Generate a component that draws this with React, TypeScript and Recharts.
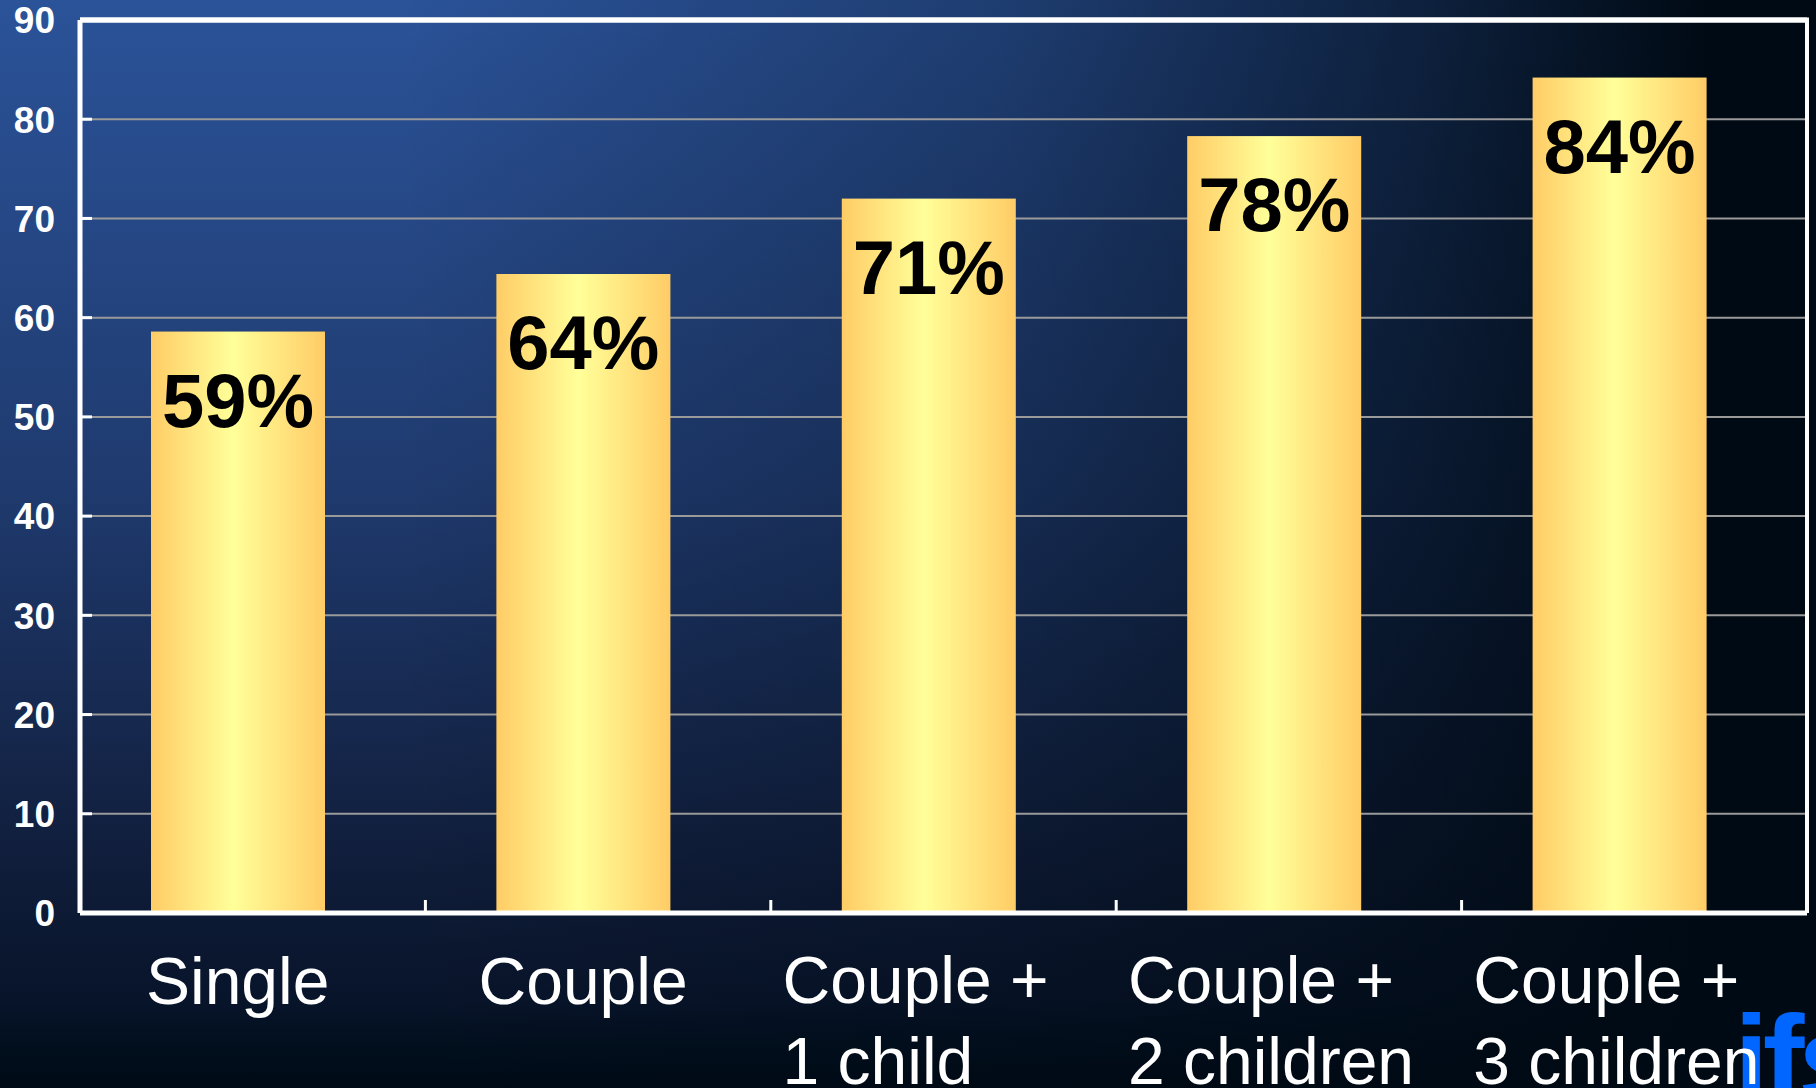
import React from 'react';
import * as R from 'recharts';
import { BarChart, Bar, XAxis, YAxis, CartesianGrid, LabelList, ReferenceLine } from 'recharts';

const categories: string[] = ['Single', 'Couple', 'Couple +\n1 child', 'Couple +\n2 children', 'Couple +\n3 children'];
const values: number[] = [58.6, 64.4, 72.0, 78.3, 84.2];
const valueLabels: string[] = ['59%', '64%', '71%', '78%', '84%'];
const yTicks: number[] = [0, 10, 20, 30, 40, 50, 60, 70, 80, 90];
const logoText = 'ifs';

const data = categories.map((c, i) => ({ name: c, value: values[i], label: valueLabels[i] }));

const W = 1816;
const H = 1088;
const FONT = '"Liberation Sans", Arial, Helvetica, sans-serif';
const BAR_SHIFT = -15;

const usePlotAreaHook: any = (R as any).usePlotArea || (R as any).useOffset || (() => null);

const Frame = () => {
  const area = usePlotAreaHook();
  if (!area) return null;
  const x = area.x ?? area.left;
  const y = area.y ?? area.top;
  const w = area.width;
  const h = area.height;
  if (x == null || w == null) return null;
  return (
    <g>
      <line x1={x} x2={x + w + 2} y1={y} y2={y} stroke="#fff" strokeWidth={5} />
      <line x1={x + w} x2={x + w} y1={y} y2={y + h} stroke="#fff" strokeWidth={4} />
    </g>
  );
};

const BarShape = (p: any) => (
  <rect x={p.x + BAR_SHIFT} y={p.y} width={p.width} height={p.height} fill="url(#barGrad)" />
);

const BarValueLabel = (p: any) => {
  const cx = p.x + BAR_SHIFT + p.width / 2;
  return (
    <text x={cx} y={p.y + 95} textAnchor="middle" fontFamily={FONT} fontWeight="bold" fontSize={76} fill="#000">
      {p.value}
    </text>
  );
};

const YTick = (p: any) => (
  <g>
    <line x1={p.x} x2={p.x + 12} y1={p.y} y2={p.y} stroke="#fff" strokeWidth={3} />
    <text x={p.x - 25} y={p.y} dy="0.36em" textAnchor="end" fontFamily={FONT} fontWeight="bold" fontSize={37} fill="#fff">
      {p.payload.value}
    </text>
  </g>
);

const XTick = (p: any) => {
  const lines: string[] = String(p.payload.value).split('\n');
  const half = p.payload && p.payload.offset ? p.payload.offset : (p.width && p.visibleTicksCount ? p.width / p.visibleTicksCount / 2 : 172.7);
  const cx = p.x + BAR_SHIFT;
  const last = p.index === (p.visibleTicksCount ? p.visibleTicksCount - 1 : 4);
  return (
    <g>
      {!last && (
        <line x1={p.x + half} x2={p.x + half} y1={p.y} y2={p.y - 13} stroke="#fff" strokeWidth={3} />
      )}
      {lines.length === 1 ? (
        <text x={cx} y={p.y + 91} textAnchor="middle" fontFamily={FONT} fontSize={66} fill="#fff">
          {lines[0]}
        </text>
      ) : (
        lines.map((ln, i) => (
          <text key={i} x={cx - 146} y={p.y + 90 + i * 81} textAnchor="start" fontFamily={FONT} fontSize={66} fill="#fff">
            {ln}
          </text>
        ))
      )}
    </g>
  );
};

export default function App() {
  return (
    <div style={{ position: 'fixed', left: 0, top: 0, width: W, height: H, overflow: 'hidden' }}>
      <svg width={W} height={H} style={{ position: 'absolute', left: 0, top: 0 }}>
        <defs>
          <linearGradient id="bgV" x1="0" y1="0" x2="0" y2="1">
            <stop offset="0%" stopColor="#2b5399" />
            <stop offset="45%" stopColor="#1f3a6e" />
            <stop offset="80%" stopColor="#101d3a" />
            <stop offset="92%" stopColor="#08142a" />
            <stop offset="96%" stopColor="#010f1e" />
            <stop offset="100%" stopColor="#000a16" />
          </linearGradient>
          <linearGradient id="bgH" x1="0" y1="0" x2="1" y2="0">
            <stop offset="0%" stopColor="#000a14" stopOpacity={0} />
            <stop offset="22%" stopColor="#000a14" stopOpacity={0} />
            <stop offset="55%" stopColor="#000a14" stopOpacity={0.3} />
            <stop offset="78%" stopColor="#000a14" stopOpacity={0.68} />
            <stop offset="94%" stopColor="#000a14" stopOpacity={1} />
            <stop offset="100%" stopColor="#000a14" stopOpacity={1} />
          </linearGradient>
        </defs>
        <rect x={0} y={0} width={W} height={H} fill="url(#bgV)" />
        <rect x={0} y={0} width={W} height={H} fill="url(#bgH)" />
        <text x={1734} y={1102} fontFamily={FONT} fontWeight="bold" fontSize={125} letterSpacing={-6} fill="#0066ff">
          {logoText}
        </text>
      </svg>
      <div style={{ position: 'absolute', left: 0, top: 0 }}>
        <BarChart width={W} height={H} data={data} margin={{ top: 20, right: 9, left: 0, bottom: 0 }} barSize={174}>
          <defs>
            <linearGradient id="barGrad" x1="0" y1="0" x2="1" y2="0">
              <stop offset="0%" stopColor="#ffcc66" />
              <stop offset="47%" stopColor="#ffff99" />
              <stop offset="100%" stopColor="#ffcc66" />
            </linearGradient>
          </defs>
          <CartesianGrid horizontal={true} vertical={false} stroke="#9a9a9a" strokeWidth={2} />
          <XAxis
            dataKey="name"
            height={175}
            interval={0}
            axisLine={{ stroke: '#fff', strokeWidth: 5 }}
            tickLine={false}
            tickSize={0}
            tickMargin={0}
            tick={<XTick />}
          />
          <YAxis
            width={80}
            domain={[0, 90]}
            ticks={yTicks}
            interval={0}
            axisLine={{ stroke: '#fff', strokeWidth: 5 }}
            tickLine={false}
            tickSize={0}
            tickMargin={0}
            tick={<YTick />}
          />
          <ReferenceLine y={90} stroke="#fff" strokeWidth={5} />
          <Bar dataKey="value" isAnimationActive={false} shape={<BarShape />}>
            <LabelList dataKey="label" content={<BarValueLabel />} />
          </Bar>
          <Frame />
        </BarChart>
      </div>
    </div>
  );
}
